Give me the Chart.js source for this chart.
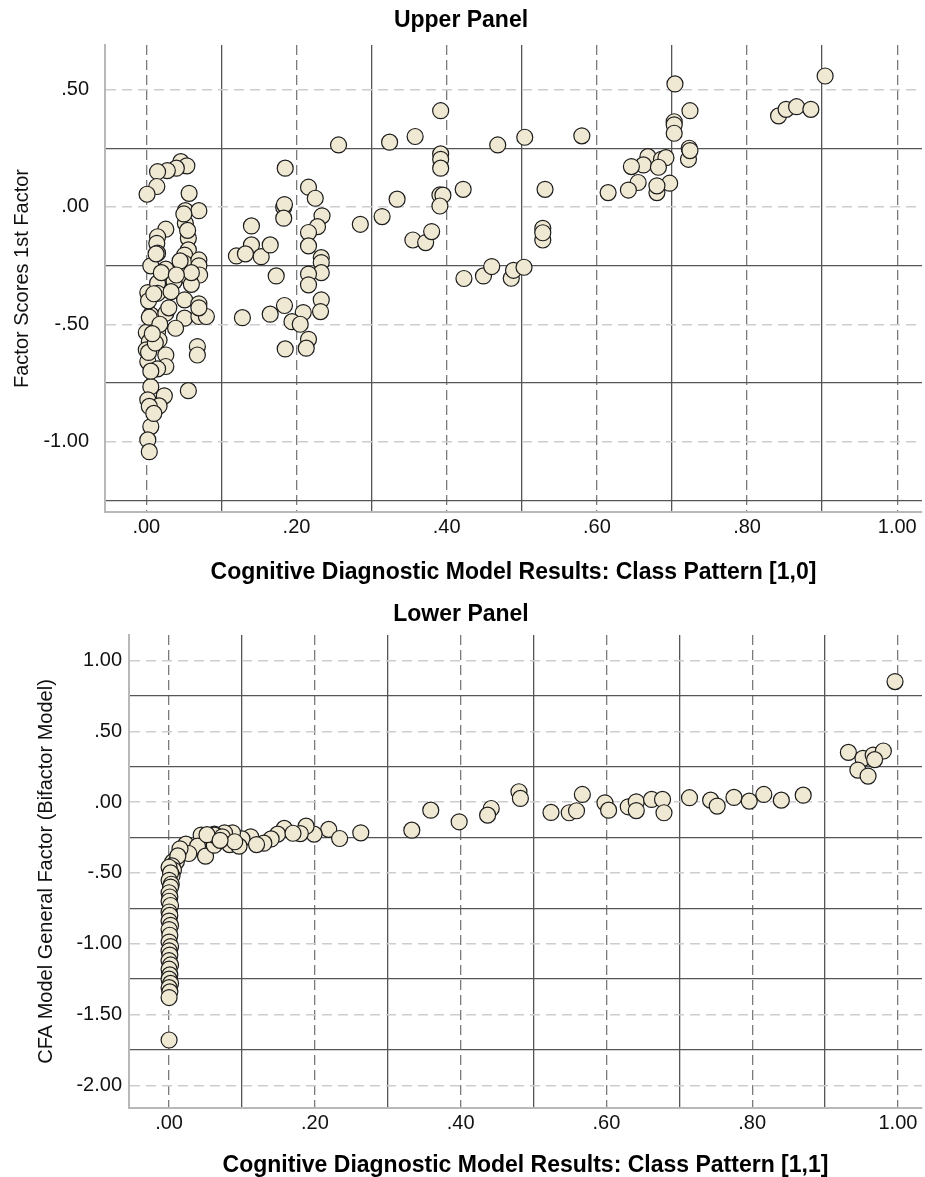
<!DOCTYPE html>
<html>
<head>
<meta charset="utf-8">
<script src="https://cdn.jsdelivr.net/npm/chart.js@4.4.1/dist/chart.umd.min.js"></script>
<style>
  body { margin: 0; background: #fff; }
  canvas { display: block; }
</style>
</head>
<body>
<canvas id="upper" width="925" height="592"></canvas>
<canvas id="lower" width="925" height="585"></canvas>
<script>
// upper panel: class pattern [1,0] vs factor scores
const upperX = [
  .046,.054,.040,.028,.015,.014,.001,.057,.052,.070,.052,.026,.015,.014,.056,.056,.015,.051,.006,.026,
  .051,.070,.070,.071,.037,.057,.002,.015,.015,.033,.051,.070,.006,.026,.051,.070,.080,.039,.000,.015,
  .004,.017,.000,.026,.068,.068,.002,.026,.015,.056,.006,.024,.002,.017,.006,.002,.004,.003,.004,.030,
  .060,.055,.050,.070,.003,.006,.010,.012,.020,.045,.004,.010,.060,.040,.013,.018,.008,
  .256,.324,.358,.392,.392,.392,.468,.504,.185,.216,.225,.183,.184,.183,.234,.228,.216,.216,.140,.140,
  .120,.132,.153,.165,.173,.233,.233,.233,.216,.216,.233,.232,.128,.165,.184,.209,.194,.205,.216,.213,
  .185,.285,.314,.334,.355,.372,.380,.391,.395,.391,.422,.531,.528,.528,.528,.423,.449,.460,.486,.489,
  .503,.392,.580,.704,.724,.703,.703,.703,.723,.722,.724,.668,.686,.692,.662,.646,.682,.655,.642,.615,
  .680,.697,.680,.904,.842,.852,.866,.885
];
const upperY = [
  .193,.175,.165,.155,.150,.087,.054,.058,-.016,-.016,-.070,-.095,-.127,-.155,-.134,-.183,-.197,-.205,-.251,-.265,
  -.240,-.226,-.251,-.290,-.318,-.304,-.365,-.325,-.368,-.361,-.396,-.413,-.460,-.453,-.474,-.467,-.467,-.517,-.535,-.532,
  -.574,-.567,-.609,-.631,-.595,-.631,-.659,-.680,-.690,-.783,-.766,-.805,-.822,-.848,-.936,-.993,-1.043,-.400,-.470,-.430,
  -.330,-.100,-.030,-.430,-.620,-.700,-.370,-.580,-.280,-.230,-.850,-.880,-.280,-.290,-.200,-.500,-.540,
  .264,.276,.300,.226,.203,.165,.264,.297,.165,.084,.037,-.001,.010,-.048,-.038,-.084,-.109,-.166,-.081,-.162,
  -.209,-.200,-.212,-.162,-.294,-.216,-.237,-.280,-.286,-.332,-.396,-.446,-.472,-.457,-.420,-.450,-.489,-.500,-.564,-.602,
  -.605,-.074,-.041,.033,-.141,-.152,-.105,.051,.050,.004,.075,.075,-.091,-.141,-.110,-.305,-.294,-.254,-.304,-.270,
  -.257,.410,.303,.524,.410,.363,.350,.314,.250,.203,.240,.214,.203,.210,.179,.172,.169,.104,.072,.061,
  .061,.101,.090,.558,.388,.416,.427,.416
];

// lower panel: class pattern [1,1] vs bifactor general factor
const lowerX = [
  .996,.932,.952,.966,.980,.968,.945,.959,.480,.482,.524,.549,.559,.567,.598,.603,.630,.641,.641,.662,
  .677,.679,.714,.743,.752,.775,.796,.816,.840,.870,.442,.437,.398,.359,.333,.263,.219,.234,.199,.188,
  .180,.158,.149,.140,.112,.100,.087,.076,.062,.044,.023,.039,.050,.062,.062,.073,.083,.096,.052,.027,
  .005,.010,.015,.012,.130,.120,.170,.090,.070,.004,.006,.004,
  .000,.002,.000,.003,.002,.000,.001,.000,.002,.000,.001,.000,.002,.000,.001,.000,.002,.000,.001,.000,
  .002,.000,.001,.000,.002,.000,.001,.000,.000
];
const lowerY = [
  .851,.351,.309,.332,.361,.300,.226,.184,.073,.026,-.073,-.075,-.061,.054,-.005,-.057,-.033,.002,-.060,.019,
  .019,-.075,.031,.014,-.028,.033,.007,.054,.014,.049,-.045,-.092,-.139,-.057,-.198,-.217,-.193,-.257,-.226,-.170,
  -.222,-.186,-.226,-.260,-.245,-.260,-.217,-.217,-.226,-.233,-.297,-.311,-.382,-.304,-.233,-.245,-.300,-.311,-.230,-.363,
  -.422,-.420,-.330,-.380,-.290,-.300,-.220,-.280,-.270,-.450,-.480,-.520,
  -.460,-.500,-.552,-.580,-.600,-.640,-.670,-.700,-.730,-.776,-.800,-.840,-.870,-.900,-.940,-.988,-1.020,-1.050,-1.080,-1.120,
  -1.150,-1.180,-1.220,-1.250,-1.280,-1.310,-1.340,-1.380,-1.680
];

// tick positions
const xMajor = [0, .2, .4, .6, .8, 1];
const xMinor = [.1, .3, .5, .7, .9];
const upperYMajor = [-1, -.5, 0, .5];
const upperYMinor = [-1.25, -.75, -.25, .25];
const lowerYMajor = [-2, -1.5, -1, -.5, 0, .5, 1];
const lowerYMinor = [-1.75, -1.25, -.75, -.25, .25, .75];

Chart.defaults.font.family = '"Liberation Sans", Arial, sans-serif';
Chart.defaults.color = '#111';

function fmt(v) {
  let s = Math.abs(v).toFixed(2);
  if (Math.abs(v) < 1) s = s.replace(/^0/, '');
  return (v < 0 ? '-' : '') + s;
}

function setTicks(list) {
  return s => { s.ticks = list.map(v => ({ value: v })); };
}

function panel(id, c) {
  const xRange = { min: -0.055, max: 1.033 };
  new Chart(document.getElementById(id), {
    type: 'scatter',
    data: {
      datasets: [{
        data: c.xs.map((x, i) => ({ x, y: c.ys[i] })),
        backgroundColor: '#efe8d2',
        borderColor: '#1c1c1c',
        borderWidth: 1.2,
        pointRadius: 8,
        pointHoverRadius: 8
      }]
    },
    options: {
      responsive: false,
      animation: false,
      events: [],
      layout: { padding: { left: 0, right: 3, top: 0, bottom: 0 }, autoPadding: false },
      plugins: {
        legend: { display: false },
        tooltip: { enabled: false },
        title: {
          display: true, text: c.title, color: '#000',
          font: { size: 23, weight: 'bold', lineHeight: 1 },
          padding: { top: c.titleTop, bottom: c.titleBottom }
        }
      },
      scales: {
        x: {
          type: 'linear', position: 'bottom', ...xRange,
          afterBuildTicks: setTicks(xMajor),
          afterFit: s => { s.height = c.xHeight; s.paddingRight = 0; },
          grid: { color: '#7a7a7a', lineWidth: 1.3, drawTicks: false },
          border: { display: true, color: '#b8b8b8', width: 2, dash: [10, 5] },
          ticks: { padding: 3, font: { size: 20 }, callback: v => fmt(v), maxRotation: 0, autoSkip: false },
          title: {
            display: true, text: c.xTitle, color: '#000',
            font: { size: 23, weight: 'bold', lineHeight: 1 },
            padding: { top: 0, bottom: c.xTitlePad }
          }
        },
        xm: {
          type: 'linear', position: 'bottom', ...xRange,
          afterBuildTicks: setTicks(xMinor),
          afterFit: s => { s.height = 0; s.paddingRight = 0; },
          grid: { color: '#555', lineWidth: 1.3, drawTicks: false },
          border: { display: false },
          ticks: { display: false }
        },
        y: {
          type: 'linear', position: 'left', min: c.yMin, max: c.yMax,
          afterBuildTicks: setTicks(c.yMajor),
          afterFit: s => { s.width = c.yWidth; },
          grid: { color: '#cdcdcd', lineWidth: 1.5, drawTicks: false },
          border: { display: true, color: '#b8b8b8', width: 2, dash: [10, 6] },
          ticks: { padding: c.yTickPad, font: { size: 20 }, callback: v => fmt(v), autoSkip: false },
          title: {
            display: true, text: c.yTitle, color: '#111',
            font: { size: 20, lineHeight: 1 },
            padding: { top: c.yTitlePad, bottom: 0 }
          }
        },
        ym: {
          type: 'linear', position: 'left', min: c.yMin, max: c.yMax,
          afterBuildTicks: setTicks(c.yMinor),
          afterFit: s => { s.width = 0; },
          grid: { color: '#555', lineWidth: 1.3, drawTicks: false },
          border: { display: false },
          ticks: { display: false }
        }
      }
    }
  });
}

panel('upper', {
  xs: upperX, ys: upperY, title: 'Upper Panel',
  xTitle: 'Cognitive Diagnostic Model Results: Class Pattern [1,0]',
  yTitle: 'Factor Scores 1st Factor',
  yMin: -1.30, yMax: 0.69, yMajor: upperYMajor, yMinor: upperYMinor,
  titleTop: 9, titleBottom: 13, xHeight: 80, xTitlePad: 8,
  yWidth: 105, yTickPad: 16, yTitlePad: 12
});

panel('lower', {
  xs: lowerX, ys: lowerY, title: 'Lower Panel',
  xTitle: 'Cognitive Diagnostic Model Results: Class Pattern [1,1]',
  yTitle: 'CFA Model General Factor (Bifactor Model)',
  yMin: -2.16, yMax: 1.18, yMajor: lowerYMajor, yMinor: lowerYMinor,
  titleTop: 11, titleBottom: 9, xHeight: 69, xTitlePad: 0,
  yWidth: 129, yTickPad: 7, yTitlePad: 36
});
</script>
</body>
</html>
